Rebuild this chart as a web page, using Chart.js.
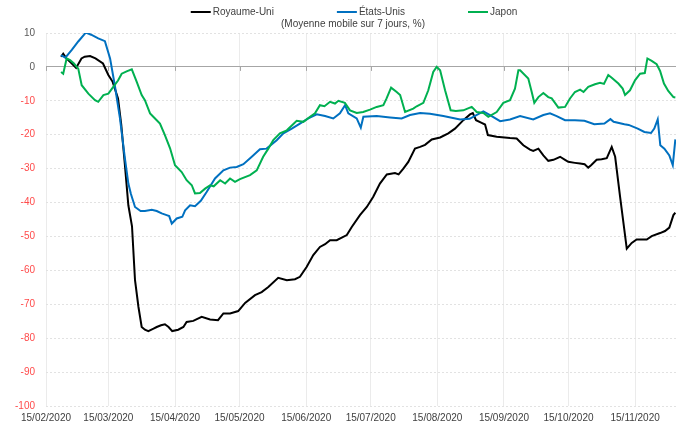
<!DOCTYPE html>
<html>
<head>
<meta charset="utf-8">
<script src="https://cdn.jsdelivr.net/npm/chart.js@4"></script>
<style>
  html, body { margin: 0; padding: 0; background: #fff; }
  #wrap { width: 681px; height: 423px; position: relative; }
</style>
</head>
<body>
<div id="wrap"><canvas id="c"></canvas></div>
<script>
// Days counted from 15/02/2020 (day 0)
const xTickDays = [0, 29, 60, 90, 121, 151, 182, 213, 243, 274];
const xTickLabels = ['15/02/2020','15/03/2020','15/04/2020','15/05/2020','15/06/2020','15/07/2020','15/08/2020','15/09/2020','15/10/2020','15/11/2020'];
const seriesLabels = ['Royaume-Uni', 'États-Unis', 'Japon'];
const subtitle = '(Moyenne mobile sur 7 jours, %)';

const ukDays = [7,8,9.5,12,14,16.5,18,20.5,23,26.5,29,31,33.5,35,36.7,38.3,40,41.4,43,44.5,46,47.6,50,51.5,53.5,55.3,57,58.7,61.5,63.9,65.4,68.5,72.4,76.3,80,82.5,85.6,89.4,92.6,97.2,100.3,103.4,108,112,115.8,118.1,121.2,124.3,127.4,129.8,132.1,135.2,139.9,142.2,146,149.2,152.2,155.3,158.5,162.3,164,166.2,168.5,171.6,174,176.3,179.4,183.3,187.1,190.2,194.1,197.2,198.5,200,202.6,204.2,205.5,209.6,215.8,218.9,222,225.1,226.6,229,231.3,233.6,236,239.1,241.4,242.9,246,248.4,250.5,252.2,253.5,256.1,258.4,260.8,263.1,264.7,267,270.1,272.4,274.7,279.4,281.7,285.6,287.9,289.9,291.8,292.7];
const ukValues = [3,3.9,2.5,1,-0.3,2.5,3,3.2,2.5,1,-2.4,-4.4,-9.3,-17,-29,-40.8,-47,-62.9,-70.8,-76.7,-77.5,-77.9,-77.2,-76.7,-76.2,-75.9,-76.7,-77.9,-77.5,-76.7,-75.2,-74.9,-73.7,-74.5,-74.7,-72.7,-72.7,-72,-69.6,-67.3,-66.4,-64.9,-62.2,-62.9,-62.6,-61.9,-59,-55.5,-53.1,-52.3,-51.1,-51.1,-49.6,-47.2,-43.7,-41.3,-38.3,-34.4,-31.7,-31.3,-31.7,-30,-28,-24.1,-23.6,-23,-21.4,-20.8,-19.6,-18.2,-15.7,-14,-13.6,-15.7,-16.5,-17,-20.1,-20.6,-21,-21.1,-23.1,-24.4,-24.8,-24.1,-26.1,-27.7,-27.4,-26.5,-27.4,-28,-28.3,-28.5,-28.7,-29.7,-29,-27.4,-27.2,-26.9,-23.6,-26.5,-38.3,-53.6,-51.9,-50.9,-50.9,-49.9,-49,-48.4,-47.4,-43.7,-43];

const usDays = [7,9,12,15,18.5,21,24.3,27.4,29.8,32,34.4,36.7,38.3,39.5,41.4,44,46,49.2,51.5,53.8,56.1,57.3,58.5,60.8,63.4,64.7,67,69.3,72,74.7,78.6,82.5,85.6,88.7,91.8,95.7,99.5,102.6,107.3,110.4,114.3,118.1,122,125.9,129.8,133.6,136.7,139.1,140.6,144.5,146.4,147.6,153.8,160,165.4,169.3,174,178.6,184.8,192.6,197,203.4,206.5,211.2,215.8,220.5,226.6,231.3,234.4,237.5,241.4,246,250.4,255,259.7,262.5,264,269,271,275.2,278.3,281.4,282.9,284.5,285.7,287.6,289.9,291.5,292.7];
const usValues = [3.5,2.7,5,7.5,10.1,9.5,8.4,7.6,2.5,-5.4,-15.2,-27,-34.4,-37.5,-41.3,-42.5,-42.5,-42.1,-42.5,-43.2,-43.7,-44,-46.2,-44.7,-44.2,-42.3,-40.8,-41.1,-39.5,-36.9,-32.9,-30.5,-29.7,-29.5,-28.7,-26.5,-24.3,-24.1,-21.6,-19.6,-18.2,-16.7,-15.2,-14,-14.5,-15.2,-13.7,-11.3,-13.7,-15.2,-17.9,-14.7,-14.5,-14.9,-15.2,-14.2,-13.6,-13.8,-14.5,-15.5,-15.3,-13.1,-14.2,-16,-15.5,-14.5,-15.5,-14.2,-13.7,-14.5,-15.7,-15.7,-15.9,-16.9,-16.7,-15.4,-16.2,-16.9,-17.1,-18.2,-19.2,-19.5,-18.2,-15.5,-23.1,-24.1,-26.1,-29,-21.4];

const jpDays = [7,8,9.6,11.2,13,15,16.6,19.7,22.8,24.3,26.7,29,31.3,33.5,35.2,37.5,39.9,42.2,44.5,46,48.4,50.7,53,55.3,57.7,60,63.1,65.4,67.8,69.3,71.6,74,76.3,78,81,83.3,85.6,87.9,90.2,94.9,98,101,103.4,105.7,108.8,112,116.6,119.7,122.8,125.1,127.4,129.5,132.1,134.4,136,139,141.4,144.5,147.5,150.7,153.8,156.9,158.4,160.5,163.1,164.7,167,170.8,172.4,175.5,177.8,180.1,181.7,183.3,185.6,188.2,190.6,194.1,196,198,200.3,203.4,205.7,209.6,212.7,215.8,218.1,219.7,220.5,224.3,225.9,227.1,229,231.3,233.6,235.2,238.3,241.4,243.7,246,248.4,250,252.2,255.3,257.7,259.5,261.5,263.1,266.2,268.2,269.3,271.6,274,276.3,278.5,279.7,281.7,284,285.6,287.4,289.4,291.8,292.7];
const jpValues = [-1.5,-2,2.5,2,1,-0.5,-5.4,-7.9,-9.8,-10.3,-8.3,-7.9,-5.9,-4,-2,-1.3,-0.7,-4.4,-8.3,-9.8,-13.7,-15.2,-16.7,-20.1,-24,-29,-31,-33.4,-34.9,-37.3,-37.2,-35.9,-34.9,-35.2,-33.4,-34.4,-32.9,-33.9,-33.1,-31.9,-30.5,-26.5,-24.1,-21.6,-19.6,-18.7,-15.9,-16.2,-14.7,-13.7,-11.3,-11.6,-10.3,-10.8,-10,-10.6,-12.8,-13.6,-13.3,-12.6,-11.8,-11.3,-9.3,-6.1,-7.4,-8.3,-13.3,-12.3,-11.6,-10.6,-6.9,-1.5,0,-1,-6.9,-12.8,-13,-12.8,-12.3,-11.8,-13.3,-13.6,-14.7,-13.3,-10.6,-9.8,-6.4,-1,-1,-3.4,-7.4,-10.6,-8.9,-7.7,-8.9,-9.3,-12,-11.8,-9.3,-7.4,-6.7,-7.4,-5.9,-5.1,-4.7,-5,-2.4,-3.2,-4.9,-6.4,-8.3,-6.9,-3.9,-2,-1.8,2.5,1.8,0.8,-1.2,-4.9,-7.1,-8.9,-9];

const FONT = '"Liberation Sans", Arial, sans-serif';
const colors = ['#000000', '#0070C0', '#00B050'];

function toPoints(days, vals) { return days.map((d, i) => ({ x: d, y: vals[i] })); }

const legendPlugin = {
  id: 'customLegend',
  afterDraw(chart) {
    const ctx = chart.ctx;
    ctx.save();
    ctx.font = '10px ' + FONT;
    ctx.textBaseline = 'middle';
    const items = chart.data.datasets.map(ds => ({
      label: ds.label, color: ds.borderColor,
      w: 20 + 2 + ctx.measureText(ds.label).width
    }));
    const gap = 63;
    const total = items.reduce((s, it) => s + it.w, 0) + gap * (items.length - 1);
    let x = 354 - total / 2;
    const y = 12;
    items.forEach(it => {
      ctx.strokeStyle = it.color;
      ctx.lineWidth = 2;
      ctx.beginPath();
      ctx.moveTo(x, y); ctx.lineTo(x + 20, y);
      ctx.stroke();
      ctx.fillStyle = '#404040';
      ctx.textAlign = 'left';
      ctx.fillText(it.label, x + 22, y);
      x += it.w + gap;
    });
    ctx.textAlign = 'center';
    ctx.fillText(subtitle, 353, 24);
    ctx.restore();
  },
  beforeDatasetsDraw(chart) {
    const ctx = chart.ctx;
    const xs = chart.scales.x, ys = chart.scales.y;
    const y0 = ys.getPixelForValue(0);
    ctx.save();
    ctx.strokeStyle = '#a6a6a6';
    ctx.lineWidth = 1;
    xTickDays.forEach(d => {
      const px = Math.round(xs.getPixelForValue(d)) + 0.5;
      ctx.beginPath();
      ctx.moveTo(px, y0);
      ctx.lineTo(px, y0 + 4);
      ctx.stroke();
    });
    ctx.restore();
  }
};

new Chart(document.getElementById('c'), {
  type: 'line',
  data: {
    datasets: [
      { label: seriesLabels[0], data: toPoints(ukDays, ukValues), borderColor: colors[0], order: 3 },
      { label: seriesLabels[1], data: toPoints(usDays, usValues), borderColor: colors[1], order: 2 },
      { label: seriesLabels[2], data: toPoints(jpDays, jpValues), borderColor: colors[2], order: 1 }
    ]
  },
  options: {
    responsive: true,
    maintainAspectRatio: false,
    animation: false,
    parsing: true,
    elements: {
      point: { radius: 0 },
      line: { borderWidth: 2, tension: 0, fill: false }
    },
    layout: { padding: { top: 33, right: 5, left: 0, bottom: 0 } },
    plugins: {
      legend: { display: false },
      title: { display: false },
      tooltip: { enabled: false }
    },
    scales: {
      x: {
        type: 'linear',
        min: 0,
        max: 293,
        afterBuildTicks: (scale) => { scale.ticks = xTickDays.map(v => ({ value: v })); },
        afterFit: (scale) => { scale.height = 17; },
        ticks: {
          autoSkip: false,
          maxRotation: 0,
          padding: 6,
          color: '#404040',
          font: { family: FONT, size: 10 },
          callback: (v) => xTickLabels[xTickDays.indexOf(v)]
        },
        grid: { color: '#ebebeb', lineWidth: 1, drawTicks: false },
        border: { display: false }
      },
      y: {
        min: -100,
        max: 10,
        afterFit: (scale) => { scale.width = 46; },
        ticks: {
          stepSize: 10,
          padding: 11,
          color: (c) => (c.tick && c.tick.value < 0 ? '#FF4B4B' : '#595959'),
          font: { family: FONT, size: 10 }
        },
        grid: {
          color: (c) => (c.tick && c.tick.value === 0 ? '#a6a6a6' : '#e2e2e2'),
          lineWidth: 1,
          drawTicks: false
        },
        border: {
          display: false,
          dash: (c) => (c.tick && c.tick.value === 0 ? [] : [2, 2])
        }
      }
    }
  },
  plugins: [legendPlugin]
});
</script>
</body>
</html>
